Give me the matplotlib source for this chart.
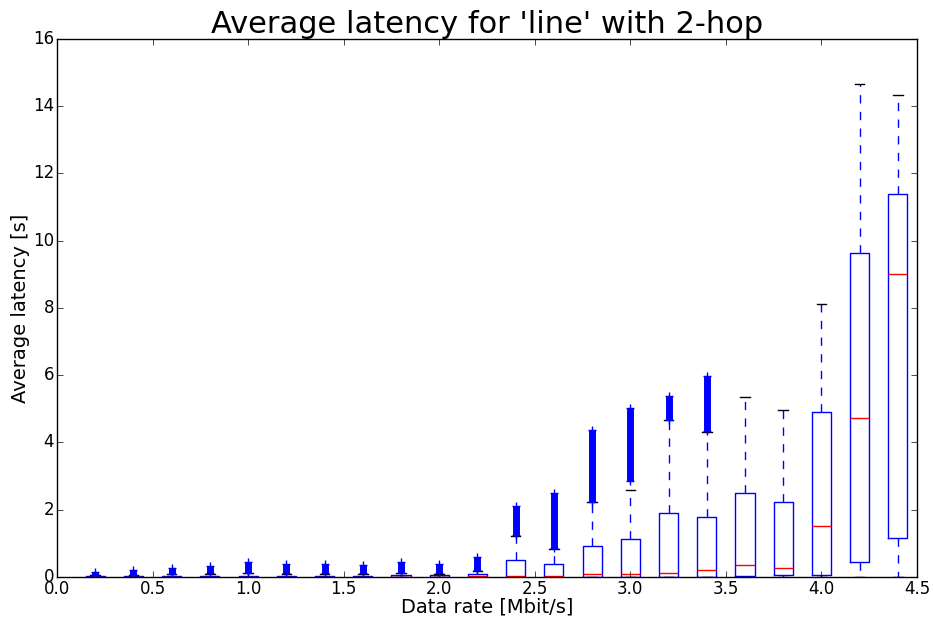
import matplotlib
matplotlib.use("Agg")
import matplotlib.pyplot as plt
import numpy as np

plt.style.use("classic")

# Data rate positions [Mbit/s]
rates = [0.2, 0.4, 0.6, 0.8, 1.0, 1.2, 1.4, 1.6, 1.8, 2.0, 2.2,
         2.4, 2.6, 2.8, 3.0, 3.2, 3.4, 3.6, 3.8, 4.0, 4.2, 4.4]

# Box statistics of the average latency [s]
lat_whislo = [0.0] * 22
lat_q1 = [0.0, 0.0, 0.0, 0.0, 0.0, 0.0, 0.0, 0.0, 0.0, 0.0, 0.0,
          0.005, 0.005, 0.01, 0.01, 0.01, 0.01, 0.03, 0.05, 0.06, 0.46, 1.15]
lat_med = [0.01, 0.01, 0.01, 0.01, 0.01, 0.01, 0.01, 0.01, 0.01, 0.01, 0.02,
           0.03, 0.03, 0.08, 0.08, 0.11, 0.2, 0.35, 0.26, 1.53, 4.72, 9.0]
lat_q3 = [0.03, 0.03, 0.04, 0.04, 0.04, 0.04, 0.04, 0.04, 0.05, 0.05, 0.1,
          0.5, 0.39, 0.91, 1.13, 1.89, 1.77, 2.49, 2.24, 4.92, 9.64, 11.4]
lat_whishi = [0.06, 0.06, 0.08, 0.1, 0.11, 0.1, 0.1, 0.1, 0.11, 0.1, 0.18,
              1.22, 0.84, 2.22, 2.59, 4.66, 4.32, 5.34, 4.96, 8.12, 14.66, 14.33]

# Range covered by outliers (None where there are none)
flier_lo = [0.07, 0.07, 0.09, 0.11, 0.12, 0.11, 0.11, 0.11, 0.12, 0.11, 0.2,
            1.25, 0.87, 2.24, 2.84, 4.68, 4.34, None, None, None, None, None]
flier_hi = [0.15, 0.2, 0.28, 0.34, 0.46, 0.39, 0.39, 0.36, 0.46, 0.39, 0.6,
            2.1, 2.49, 4.37, 5.02, 5.38, 5.99, None, None, None, None, None]

x_ticks = [0.0, 0.5, 1.0, 1.5, 2.0, 2.5, 3.0, 3.5, 4.0, 4.5]
y_ticks = [0, 2, 4, 6, 8, 10, 12, 14, 16]

fig = plt.figure(figsize=(9.33, 6.21), dpi=100, facecolor="white")
ax = fig.add_axes([0.0611, 0.0709, 0.9218, 0.8663])
ax.set_facecolor("white")

stats = []
for i in range(len(rates)):
    stats.append(dict(whislo=lat_whislo[i], q1=lat_q1[i], med=lat_med[i],
                      q3=lat_q3[i], whishi=lat_whishi[i], fliers=[]))

ax.bxp(stats, positions=rates, widths=0.1, manage_ticks=False,
       showfliers=False,
       boxprops=dict(color="b", linewidth=1),
       whiskerprops=dict(color="b", linestyle="--", linewidth=1),
       capprops=dict(color="k", linewidth=1),
       medianprops=dict(color="r", linewidth=1))

# Outliers drawn as dense '+' columns
for x, lo, hi in zip(rates, flier_lo, flier_hi):
    if lo is None:
        continue
    ax.vlines(x, lo, hi, colors="b", linewidth=5, zorder=3)
    ax.plot([x, x], [lo, hi], linestyle="none", marker="+", color="b",
            markersize=6, markeredgewidth=1, zorder=3)

ax.set_xlim(0.0, 4.5)
ax.set_ylim(0, 16)
ax.set_xticks(x_ticks)
ax.set_yticks(y_ticks)
ax.set_xticklabels([f"{v:.1f}" for v in x_ticks])
ax.set_yticklabels([str(v) for v in y_ticks])
ax.tick_params(labelsize=12, pad=2)

ax.set_title("Average latency for 'line' with 2-hop", fontsize=22, pad=4)
ax.set_xlabel("Data rate [Mbit/s]", fontsize=14, labelpad=0)
ax.set_ylabel("Average latency [s]", fontsize=14, labelpad=2)

fig.savefig("out.png", dpi=100, facecolor="white")
